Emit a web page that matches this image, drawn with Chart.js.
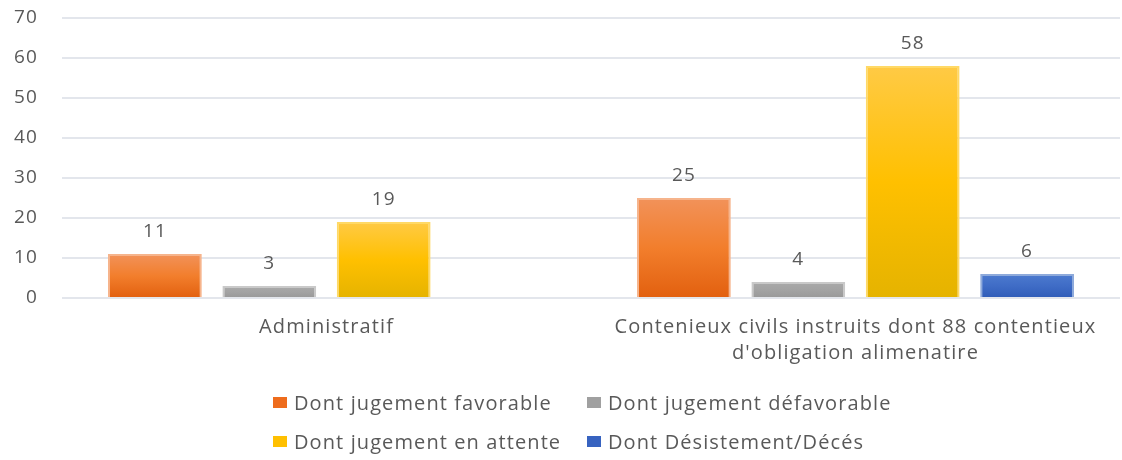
<!DOCTYPE html>
<html>
<head>
<meta charset="utf-8">
<script src="https://cdn.jsdelivr.net/npm/chart.js@4/dist/chart.umd.min.js"></script>
<style>
  html, body { margin: 0; padding: 0; background: #fff; }
  #wrap { position: relative; width: 1122px; height: 460px; }
  #legend {
    position: absolute; left: 273px; top: 389px;
    display: grid; grid-template-columns: 314px auto; row-gap: 13px;
    font: 20px "Open Sans", sans-serif; color: #595959; letter-spacing: 1.1px;
  }
  #legend .item { display: flex; align-items: center; height: 26px; white-space: nowrap; }
  #legend .box { width: 14px; height: 11px; margin-right: 7px; }
</style>
</head>
<body>
<div id="wrap">
  <canvas id="myChart" width="1122" height="460"></canvas>
  <div id="legend"></div>
</div>
<script>
var categories = [
    'Administratif',
    ['Contenieux civils instruits dont 88 contentieux', "d'obligation alimenatire"]
];
var seriesNames = [
    'Dont jugement favorable',
    'Dont jugement défavorable',
    'Dont jugement en attente',
    'Dont Désistement/Décés'
];
var favorable = [11, 25];
var defavorable = [3, 4];
var enAttente = [19, 58];
var desistement = [null, 6];
var yTicks = [0, 10, 20, 30, 40, 50, 60, 70];

var textColor = '#595959';
var fontFamily = '"Open Sans", sans-serif';

// vertical gradient for each bar, from its own top down to the zero line
function barFill(top, mid, bottom) {
    return function (c) {
        var chart = c.chart;
        if (!chart.chartArea || !c.parsed || c.parsed.y == null) return mid;
        var y = chart.scales.y;
        var y0 = y.getPixelForValue(c.parsed.y);
        var y1 = y.getPixelForValue(0);
        if (y1 - y0 < 1) return mid;
        var g = chart.ctx.createLinearGradient(0, y0, 0, y1);
        g.addColorStop(0, top);
        g.addColorStop(0.5, mid);
        g.addColorStop(1, bottom);
        return g;
    };
}

var palette = [
    { fill: barFill('#f2925a', '#f27e2c', '#e2600f'), border: '#f6b48c', swatch: '#ee6c1c' },
    { fill: barFill('#aaaaaa', '#a3a3a3', '#999999'), border: '#c9c9c9', swatch: '#a0a0a0' },
    { fill: barFill('#ffca45', '#ffc000', '#e5b300'), border: '#ffd966', swatch: '#ffc000' },
    { fill: barFill('#4d7bcf', '#3f6cc6', '#2f5cb8'), border: '#8eaadb', swatch: '#3763c0' }
];

var values = [favorable, defavorable, enAttente, desistement];

// slightly spaced-out lettering for all canvas text
var spacing = {
    id: 'spacing',
    beforeDraw: function (chart) {
        chart.ctx.letterSpacing = '1.1px';
    }
};

// numbers above the bars
var valueLabels = {
    id: 'valueLabels',
    afterDatasetsDraw: function (chart) {
        var ctx = chart.ctx;
        ctx.save();
        ctx.font = '19px ' + fontFamily;
        ctx.fillStyle = textColor;
        ctx.textAlign = 'center';
        ctx.textBaseline = 'middle';
        chart.data.datasets.forEach(function (ds, i) {
            chart.getDatasetMeta(i).data.forEach(function (bar, j) {
                var v = ds.data[j];
                if (v == null) return;
                ctx.fillText(String(v), bar.x, bar.y - 22);
            });
        });
        ctx.restore();
    }
};

var ctx = document.getElementById('myChart').getContext('2d');
var myChart = new Chart(ctx, {
    type: 'bar',
    data: {
        labels: categories,
        datasets: seriesNames.map(function (name, i) {
            return {
                label: name,
                data: values[i],
                backgroundColor: palette[i].fill,
                borderColor: palette[i].border,
                borderWidth: 2,
                categoryPercentage: 0.865,
                barPercentage: 0.82
            };
        })
    },
    options: {
        responsive: false,
        animation: false,
        layout: { padding: { top: 0, right: 2, bottom: 90, left: 0 } },
        plugins: {
            legend: { display: false },
            tooltip: { enabled: false }
        },
        scales: {
            x: {
                grid: { display: false, drawTicks: false },
                border: { display: false },
                ticks: {
                    color: textColor,
                    font: { family: fontFamily, size: 20, lineHeight: 1.3 },
                    padding: 16,
                    maxRotation: 0,
                    autoSkip: false
                },
                afterFit: function (scale) { scale.height = 72; }
            },
            y: {
                min: 0,
                max: 70,
                afterBuildTicks: function (scale) {
                    scale.ticks = yTicks.map(function (v) { return { value: v }; });
                },
                grid: { color: '#e3e6ec', lineWidth: 2, drawTicks: false },
                border: { display: false },
                ticks: {
                    color: textColor,
                    font: { family: fontFamily, size: 19 },
                    padding: 24
                },
                afterFit: function (scale) {
                    scale.width = 62;
                    scale.paddingTop = 18;
                    scale.paddingBottom = 12;
                }
            }
        }
    },
    plugins: [spacing, valueLabels]
});

// legend in two rows of two
var legend = document.getElementById('legend');
seriesNames.forEach(function (name, i) {
    var item = document.createElement('div');
    item.className = 'item';
    var box = document.createElement('span');
    box.className = 'box';
    box.style.background = palette[i].swatch;
    item.appendChild(box);
    item.appendChild(document.createTextNode(name));
    legend.appendChild(item);
});
</script>
</body>
</html>
